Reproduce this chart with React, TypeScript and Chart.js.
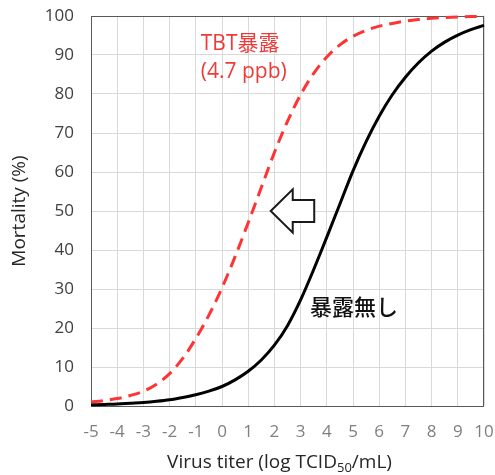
import { useEffect, useRef } from 'react';
import { Chart, registerables } from 'chart.js';

Chart.register(...registerables);

// ---- data ----
const titer = [-5, -4.5, -4, -3.5, -3, -2.5, -2, -1.5, -1, -0.5, 0, 0.5, 1, 1.5, 2, 2.5, 3, 3.5, 4, 4.5, 5, 5.5, 6, 6.5, 7, 7.5, 8, 8.5, 9, 9.5, 10];
const mortalityTBT = [1.0, 1.4, 1.9, 2.7, 3.8, 5.6, 8.3, 12.2, 17.3, 23.3, 30.3, 38.3, 47, 56, 65, 73, 79.8, 85.3, 89.5, 92.6, 94.8, 96.3, 97.4, 98.1, 98.7, 99.1, 99.4, 99.6, 99.75, 99.85, 99.9];
const mortalityControl = [0.3, 0.4, 0.5, 0.7, 0.9, 1.2, 1.6, 2.2, 2.9, 3.8, 5.0, 6.7, 8.9, 11.8, 15.6, 20.6, 27.2, 35, 43.3, 51.8, 60.3, 67.8, 74.3, 79.8, 84.3, 88, 91, 93.3, 95.1, 96.5, 97.6];
const xMin = -5;
const xMax = 10;
const yMin = 0;
const yMax = 100;

const labelTBT = 'TBT暴露';
const labelTBTDose = '(4.7 ppb)';
const labelControl = '暴露無し';
const yTitle = 'Mortality (%)';
const xTitleMain = 'Virus titer (log TCID';
const xTitleSub = '50';
const xTitleEnd = '/mL)';

const FONT = '"Open Sans", "Noto Sans CJK JP", sans-serif';
const RED = '#ff3333';

const overlayPlugin = {
  id: 'overlay',
  beforeDatasetsDraw(chart: any) {
    const { ctx, chartArea } = chart;
    ctx.save();
    ctx.strokeStyle = '#595959';
    ctx.lineWidth = 1;
    ctx.strokeRect(
      Math.round(chartArea.left) + 0.5,
      Math.round(chartArea.top) + 0.5,
      Math.round(chartArea.right - chartArea.left) - 1,
      Math.round(chartArea.bottom - chartArea.top)
    );
    ctx.restore();
  },
  afterDatasetsDraw(chart: any) {
    const { ctx, chartArea } = chart;
    const xs = chart.scales.x;
    const ys = chart.scales.y;
    ctx.save();

    // annotations
    ctx.textAlign = 'left';
    ctx.textBaseline = 'middle';
    ctx.fillStyle = '#f03a3a';
    ctx.font = `21px ${FONT}`;
    ctx.fillText(labelTBT, xs.getPixelForValue(-0.81), ys.getPixelForValue(92.9));
    ctx.fillText(labelTBTDose, xs.getPixelForValue(-0.81), ys.getPixelForValue(85.7));
    ctx.fillStyle = '#111111';
    ctx.font = `500 22px ${FONT}`;
    ctx.fillText(labelControl, xs.getPixelForValue(3.36), ys.getPixelForValue(24.9));

    // arrow (left-pointing, outline)
    const tx = xs.getPixelForValue(1.86);
    const ty = ys.getPixelForValue(50);
    const headLen = 22;
    const headHalf = 21.7;
    const shaftHalf = 11;
    const total = 43.5;
    ctx.beginPath();
    ctx.moveTo(tx, ty);
    ctx.lineTo(tx + headLen, ty - headHalf);
    ctx.lineTo(tx + headLen, ty - shaftHalf);
    ctx.lineTo(tx + total, ty - shaftHalf);
    ctx.lineTo(tx + total, ty + shaftHalf);
    ctx.lineTo(tx + headLen, ty + shaftHalf);
    ctx.lineTo(tx + headLen, ty + headHalf);
    ctx.closePath();
    ctx.fillStyle = '#ffffff';
    ctx.fill();
    ctx.strokeStyle = '#1a1a1a';
    ctx.lineWidth = 2;
    ctx.lineJoin = 'miter';
    ctx.stroke();

    // x-axis title with subscript
    ctx.fillStyle = '#262626';
    ctx.textBaseline = 'alphabetic';
    const mainFont = `19px ${FONT}`;
    const subFont = `13px ${FONT}`;
    ctx.font = mainFont;
    const w1 = ctx.measureText(xTitleMain).width;
    const w3 = ctx.measureText(xTitleEnd).width;
    ctx.font = subFont;
    const w2 = ctx.measureText(xTitleSub).width;
    const cx = (chartArea.left + chartArea.right) / 2 - 8;
    const baseY = chart.height - 7;
    let x0 = cx - (w1 + w2 + w3) / 2;
    ctx.font = mainFont;
    ctx.fillText(xTitleMain, x0, baseY);
    x0 += w1;
    ctx.font = subFont;
    ctx.fillText(xTitleSub, x0, baseY + 4);
    x0 += w2;
    ctx.font = mainFont;
    ctx.fillText(xTitleEnd, x0, baseY);

    ctx.restore();
  },
};

export default function App() {
  const canvasRef = useRef<HTMLCanvasElement | null>(null);

  useEffect(() => {
    document.body.style.margin = '0';
    const canvas = canvasRef.current;
    if (!canvas) return;
    const chart = new Chart(canvas, {
      type: 'line',
      data: {
        datasets: [
          {
            label: labelTBT,
            data: titer.map((x, i) => ({ x, y: mortalityTBT[i] })),
            borderColor: RED,
            borderWidth: 3,
            borderDash: [12, 7],
            pointRadius: 0,
            fill: false,
            cubicInterpolationMode: 'monotone',
          },
          {
            label: labelControl,
            data: titer.map((x, i) => ({ x, y: mortalityControl[i] })),
            borderColor: '#000000',
            borderWidth: 3,
            pointRadius: 0,
            fill: false,
            cubicInterpolationMode: 'monotone',
          },
        ],
      },
      options: {
        animation: false,
        responsive: false,
        maintainAspectRatio: false,
        clip: false as any,
        layout: { padding: { top: 16, right: 11, left: 0, bottom: 0 } },
        plugins: {
          legend: { display: false },
          tooltip: { enabled: false },
        },
        scales: {
          x: {
            type: 'linear',
            min: xMin,
            max: xMax,
            border: { display: false },
            grid: { color: '#d9d9d9', lineWidth: 1, drawTicks: false },
            ticks: {
              stepSize: 1,
              color: '#7f7f7f',
              font: { family: FONT, size: 17 },
              padding: 16,
              maxRotation: 0,
              autoSkip: false,
            },
            afterFit(scale: any) {
              scale.height = 69;
              scale.paddingLeft = 0;
              scale.paddingRight = 0;
            },
          },
          y: {
            type: 'linear',
            min: yMin,
            max: yMax,
            border: { display: false },
            grid: { color: '#d9d9d9', lineWidth: 1, drawTicks: false },
            ticks: {
              stepSize: 10,
              color: '#404040',
              font: { family: FONT, size: 17 },
              padding: 17,
            },
            title: {
              display: true,
              text: yTitle,
              color: '#262626',
              font: { family: FONT, size: 19 },
              padding: { top: 8, bottom: 0 },
            },
            afterFit(scale: any) {
              scale.width = 91;
              scale.paddingTop = 0;
              scale.paddingBottom = 0;
            },
          },
        },
      },
      plugins: [overlayPlugin],
    });
    return () => chart.destroy();
  }, []);

  return (
    <div style={{ width: 495, height: 475 }}>
      <canvas ref={canvasRef} width={495} height={475} style={{ display: 'block' }} />
    </div>
  );
}
